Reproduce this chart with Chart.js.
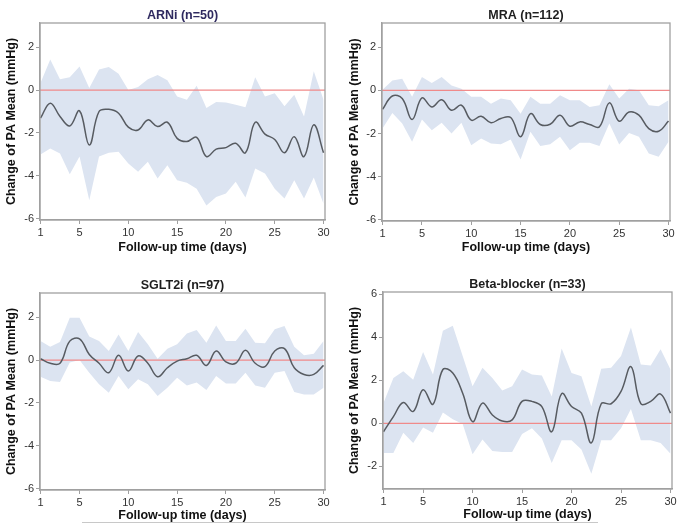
<!DOCTYPE html>
<html>
<head>
<meta charset="utf-8">
<script src="https://cdn.jsdelivr.net/npm/chart.js@4.4.1/dist/chart.umd.min.js"></script>
<style>
  html, body { margin: 0; padding: 0; background: #fff; width: 680px; height: 525px; overflow: hidden; }
  .panel { position: absolute; width: 340px; }
  #rule { position: absolute; left: 82px; top: 522px; width: 516px; height: 1px; background: #c8c8c8; }
</style>
</head>
<body>
<div class="panel" style="left:0;top:0;height:260px"><canvas id="arni"></canvas></div>
<div class="panel" style="left:340px;top:0;height:260px"><canvas id="mra"></canvas></div>
<div class="panel" style="left:0;top:270px;height:258px"><canvas id="sglt2i"></canvas></div>
<div class="panel" style="left:340px;top:269px;height:258px"><canvas id="bb"></canvas></div>
<div id="rule"></div>
<script>
// follow-up days and x tick labels
const days = [1, 2, 3, 4, 5, 6, 7, 8, 9, 10, 11, 12, 13, 14, 15, 16, 17, 18, 19, 20, 21, 22, 23, 24, 25, 26, 27, 28, 29, 30];
const xTicks = [1, 5, 10, 15, 20, 25, 30];
const yTicksLow = [-6, -4, -2, 0, 2];
const yTicksHigh = [-2, 0, 2, 4, 6];

// ARNi (n=50)
const arniMean  = [-1.31, -0.61, -1.23, -1.67, -0.97, -2.56, -1.0, -0.9, -1.08, -1.73, -1.86, -1.39, -1.7, -1.5, -2.25, -2.4, -2.2, -3.1, -2.75, -2.68, -2.48, -2.92, -1.5, -2.05, -2.3, -2.92, -2.17, -3.1, -1.62, -2.92];
const arniUpper = [0.33, 1.42, 0.5, 0.6, 1.1, 0.1, 0.95, 1.07, 0.76, 0.0, 0.14, 0.5, 0.7, 0.45, -0.3, -0.45, 0.2, -0.84, -0.56, -0.58, -0.69, -0.8, 0.6, -0.3, -0.15, -0.76, -0.22, -1.23, 0.87, -0.45];
const arniLower = [-3.0, -2.72, -2.95, -3.92, -3.1, -5.13, -3.1, -2.92, -2.87, -3.42, -3.8, -3.34, -4.12, -3.5, -4.2, -4.32, -4.59, -5.37, -4.98, -4.82, -4.27, -5.0, -3.65, -3.88, -4.59, -5.05, -4.2, -5.05, -4.07, -5.29];

// MRA (n=112)
const mraMean  = [-0.88, -0.26, -0.38, -1.35, -0.35, -0.77, -0.43, -0.92, -0.69, -1.38, -1.2, -1.5, -1.3, -1.26, -2.15, -1.08, -1.58, -1.57, -1.15, -1.66, -1.46, -1.58, -1.69, -0.58, -1.43, -1.0, -1.15, -1.77, -1.89, -1.42];
const mraUpper = [0.03, 0.46, 0.54, -0.3, 0.62, 0.34, 0.62, 0.23, 0.08, -0.3, -0.3, -0.62, -0.38, -0.46, -1.08, -0.3, -0.62, -0.62, -0.23, -0.46, -0.46, -0.77, -0.69, 0.28, -0.38, 0.08, 0.0, -0.69, -0.74, -0.46];
const mraLower = [-1.77, -1.05, -1.54, -2.38, -1.35, -1.85, -1.5, -2.0, -1.5, -2.54, -2.23, -2.46, -2.49, -2.28, -3.2, -1.92, -2.58, -2.49, -2.15, -2.77, -2.43, -2.43, -2.58, -1.54, -2.51, -1.97, -2.15, -2.92, -3.08, -2.38];

// SGLT2i (n=97)
const sgltMean  = [0.06, -0.15, -0.15, 0.88, 0.99, 0.26, -0.15, -0.59, 0.22, -0.51, 0.19, -0.15, -0.78, -0.36, -0.05, 0.06, 0.22, -0.25, 0.42, -0.09, -0.15, 0.45, -0.15, -0.31, 0.42, 0.53, -0.36, -0.67, -0.67, -0.25];
const sgltUpper = [0.88, 0.62, 0.84, 1.97, 1.97, 1.09, 0.88, 0.42, 1.19, 0.42, 1.3, 0.73, 0.06, 0.53, 0.73, 1.24, 1.4, 0.81, 1.61, 0.88, 0.88, 1.46, 0.81, 0.78, 1.43, 1.58, 0.62, 0.22, 0.29, 0.88];
const sgltLower = [-0.78, -0.98, -1.02, -0.12, 0.0, -0.59, -1.13, -1.52, -0.74, -1.36, -0.9, -1.13, -1.67, -1.29, -0.82, -1.18, -1.05, -1.4, -0.74, -1.09, -1.09, -0.59, -1.18, -1.29, -0.59, -0.51, -1.49, -1.6, -1.6, -1.29];

// Beta-blocker (n=33)
const bbMean  = [-0.39, 0.31, 0.97, 0.55, 1.56, 0.89, 2.5, 2.34, 1.4, 0.08, 0.94, 0.39, 0.11, 0.16, 1.02, 1.02, 0.78, -0.39, 1.38, 0.78, 0.47, -0.91, 0.91, 0.91, 1.48, 2.63, 0.91, 1.02, 1.36, 0.47];
const bbUpper = [0.94, 2.1, 2.42, 2.03, 3.31, 2.27, 4.3, 4.53, 3.13, 1.72, 2.58, 2.1, 1.53, 1.72, 2.5, 2.27, 2.22, 1.25, 3.47, 2.34, 2.19, 0.78, 2.53, 2.58, 3.13, 4.45, 2.73, 2.69, 3.44, 2.5];
const bbLower = [-1.38, -1.38, -0.44, -0.91, -0.19, -0.44, 0.5, 0.19, -0.03, -1.44, -0.75, -1.28, -1.33, -1.33, -0.5, -0.23, -0.7, -1.84, -0.78, -0.78, -1.22, -2.34, -0.78, -0.78, -0.23, 0.66, -0.78, -0.78, -0.91, -1.41];

const FONT = "'Liberation Sans', Arial, Helvetica, sans-serif";
const AXIS = '#a0a0a0';

// frame round the plot + red reference line at 0
const framePlugin = {
  id: 'frame',
  afterDatasetDraw(chart, args) {
    if (args.index !== 1) return;
    const { ctx, chartArea: a, scales } = chart;
    const y0 = scales.y.getPixelForValue(0);
    ctx.save();
    ctx.strokeStyle = '#f08a8a';
    ctx.lineWidth = 1.2;
    ctx.beginPath();
    ctx.moveTo(a.left, y0);
    ctx.lineTo(a.right, y0);
    ctx.stroke();
    ctx.restore();
  },
  afterDraw(chart) {
    const { ctx, chartArea: a } = chart;
    ctx.save();
    ctx.strokeStyle = AXIS;
    ctx.lineWidth = 1.3;
    ctx.strokeRect(a.left, a.top, a.right - a.left, a.bottom - a.top);
    ctx.restore();
  }
};

function toPoints(vals) {
  return days.map((d, i) => ({ x: d, y: vals[i] }));
}

function makeChart(id, title, titleColor, mean, upper, lower, yMin, yMax, yTicks, box) {
  new Chart(document.getElementById(id), {
    type: 'line',
    data: {
      datasets: [
        { data: toPoints(mean), borderColor: '#575b61', borderWidth: 1.5, pointRadius: 0, tension: 0.4, fill: false },
        { data: toPoints(upper), borderWidth: 0, pointRadius: 0, backgroundColor: '#dce4f1', fill: '+1' },
        { data: toPoints(lower), borderWidth: 0, pointRadius: 0, fill: false }
      ]
    },
    options: {
      responsive: true,
      maintainAspectRatio: false,
      animation: false,
      layout: { padding: { left: 0, right: box.padRight, top: 0, bottom: 0 } },
      plugins: {
        legend: { display: false },
        tooltip: { enabled: false },
        title: {
          display: true, text: title, color: titleColor, fullSize: false,
          font: { family: FONT, size: 12.5, weight: 'bold', lineHeight: 1.2 },
          padding: { top: 8, bottom: 0 }
        }
      },
      scales: {
        x: {
          type: 'linear', min: 0.95, max: 30.15,
          afterBuildTicks: s => { s.ticks = xTicks.map(v => ({ value: v })); },
          afterFit: s => { s.height = box.xHeight; },
          grid: { drawOnChartArea: false, drawTicks: true, tickLength: 4, color: AXIS },
          border: { display: true, color: AXIS, width: 1.3 },
          ticks: { color: '#333', padding: 2, maxRotation: 0, font: { family: FONT, size: 11 } },
          title: {
            display: true, text: 'Follow-up time (days)', color: '#111',
            font: { family: FONT, size: 12.5, weight: 'bold', lineHeight: 1.2 },
            padding: { top: 0, bottom: 5 }
          }
        },
        y: {
          min: yMin, max: yMax,
          afterBuildTicks: s => { s.ticks = yTicks.map(v => ({ value: v })); },
          afterFit: s => { s.width = box.yWidth; },
          grid: { drawOnChartArea: false, drawTicks: true, tickLength: 4, color: AXIS },
          border: { display: true, color: AXIS, width: 1.3 },
          ticks: { color: '#333', padding: 2, font: { family: FONT, size: 11 } },
          title: {
            display: true, text: 'Change of PA Mean (mmHg)', color: '#111',
            font: { family: FONT, size: 12.5, weight: 'bold', lineHeight: 1.2 },
            padding: { top: box.yTitlePad, bottom: 0 }
          }
        }
      }
    },
    plugins: [framePlugin]
  });
}

makeChart('arni', 'ARNi (n=50)', '#2f2a60', arniMean, arniUpper, arniLower, -6.05, 3.12, yTicksLow,
  { yWidth: 40, padRight: 15, xHeight: 40, yTitlePad: 4 });
makeChart('mra', 'MRA (n=112)', '#1e1e1e', mraMean, mraUpper, mraLower, -6.05, 3.12, yTicksLow,
  { yWidth: 42, padRight: 10, xHeight: 39, yTitlePad: 7 });
makeChart('sglt2i', 'SGLT2i (n=97)', '#1e1e1e', sgltMean, sgltUpper, sgltLower, -6.05, 3.12, yTicksLow,
  { yWidth: 40, padRight: 15, xHeight: 38, yTitlePad: 4 });
makeChart('bb', 'Beta-blocker (n=33)', '#1e1e1e', bbMean, bbUpper, bbLower, -3.05, 6.1, yTicksHigh,
  { yWidth: 43, padRight: 8, xHeight: 38, yTitlePad: 7 });
</script>
</body>
</html>
